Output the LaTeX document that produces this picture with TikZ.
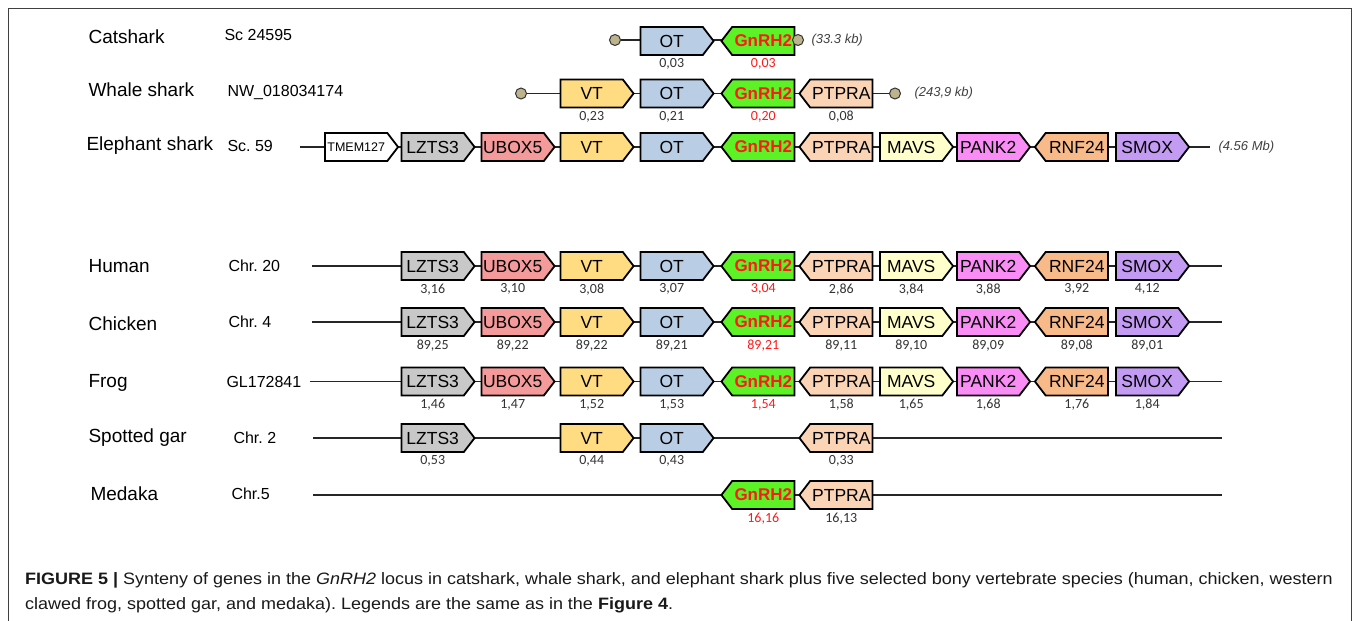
\documentclass[tikz,border=0pt]{standalone}
\usepackage{fontspec}
\setmainfont{Liberation Sans}
\newfontfamily\calibri{Carlito}
\newfontfamily\capfont{Liberation Sans}[FakeStretch=1.09]
\usepackage{tikz}
\usetikzlibrary{shapes.symbols}
\usetikzlibrary{positioning}
\usetikzlibrary{backgrounds}

\definecolor{cLZTS}{HTML}{C8C8C8}
\definecolor{cUBOX}{HTML}{F59A9B}
\definecolor{cVT}{HTML}{FFDB82}
\definecolor{cOT}{HTML}{B9CDE5}
\definecolor{cGNRH}{HTML}{5CF226}
\definecolor{cPTPRA}{HTML}{FBD4B6}
\definecolor{cMAVS}{HTML}{FFFFCC}
\definecolor{cPANK}{HTML}{FA8CF5}
\definecolor{cRNF}{HTML}{F9BA8A}
\definecolor{cSMOX}{HTML}{C39BF3}
\definecolor{cBALL}{HTML}{BDB48E}
\definecolor{numgray}{HTML}{333333}
\definecolor{gnred}{HTML}{FF1A1A}

\tikzset{
    gene/.style={signal, signal pointer angle=105, draw=black, line width=1.8pt,
        minimum width=73pt, minimum height=28pt, inner sep=0pt, text=black,
        font=\fontsize{17.5}{17.5}\selectfont},
    fwd/.style={gene, signal to=east, xshift=-5.3pt},
    rev/.style={gene, signal to=west, xshift=5.3pt},
    tmem/.style={fwd, fill=white, font=\fontsize{12.5}{12.5}\selectfont},
    lzts/.style={fwd, fill=cLZTS},
    ubox/.style={fwd, fill=cUBOX},
    vt/.style={fwd, fill=cVT},
    ot/.style={fwd, fill=cOT},
    gnrh/.style={rev, fill=cGNRH, text=gnred, font=\fontsize{17}{17}\bfseries},
    ptpra/.style={rev, fill=cPTPRA},
    mavs/.style={fwd, fill=cMAVS},
    pank/.style={fwd, fill=cPANK},
    rnf/.style={rev, fill=cRNF},
    smox/.style={fwd, fill=cSMOX},
    num/.style={text=numgray, font=\calibri\fontsize{14}{14}\selectfont, inner sep=2.5pt},
    rednum/.style={num, text=gnred},
    species/.style={anchor=west, font=\fontsize{19}{19}\selectfont},
    locus/.style={anchor=west, font=\fontsize{16}{16}\selectfont\frenchspacing},
    span/.style={anchor=west, text=black!75, font=\fontsize{13}{13}\itshape},
    endball/.style={circle, draw=black!80, fill=cBALL, line width=1pt,
        minimum size=11pt, inner sep=0pt},
    chrom/.style={draw=black!85, line width=1.3pt},
    caption/.style={anchor=base west, inner sep=0pt, text=black!90,
        font=\capfont\fontsize{16.5}{16.5}\selectfont\frenchspacing},
}

\begin{document}
\begin{tikzpicture}[x=1pt, y=-1pt]

    \useasboundingbox (0,0) rectangle (1358,621);

    % Frame
    \coordinate (f1) at (8.5,621);
    \coordinate (f2) at (8.5,8.5);
    \coordinate (f3) at (1351.5,8.5);
    \coordinate (f4) at (1351.5,621);
    \draw[black!75, line width=1.3pt] (f1) -- (f2) -- (f3) -- (f4);

    % Names
    \node[species] (ca-name) at (85,37) {Catshark};
    \node[species] (wh-name) at (85,90) {Whale shark};
    \node[species] (el-name) at (83,146) {Elephant shark};
    \node[species] (hu-name) at (85,266) {Human};
    \node[species] (ch-name) at (85,324) {Chicken};
    \node[species] (fr-name) at (85,383) {Frog};
    \node[species] (sg-name) at (85,438) {Spotted gar};
    \node[species] (me-name) at (87,494) {Medaka};

    \node[locus] (ca-loc) at (221,35) {Sc 24595};
    \node[locus] (wh-loc) at (224,93) {NW\_018034174};
    \node[locus] (el-loc) at (224,146) {Sc. 59};
    \node[locus] (hu-loc) at (225,266) {Chr. 20};
    \node[locus] (ch-loc) at (225,322) {Chr. 4};
    \node[locus] (fr-loc) at (223,382) {GL172841};
    \node[locus] (sg-loc) at (230,438) {Chr. 2};
    \node[locus] (me-loc) at (228,494) {Chr.5};

    % Catshark
    \node[ot]   (ca-ot)   at (677,41) [label={[num, name=ca-ot-n]below:{0,03}}] {OT};
    \node[gnrh] (ca-gnrh) at (758,41) [label={[rednum, name=ca-gnrh-n]below:{0,03}}] {GnRH2};
    \node[endball] (ca-cl) at (615,40) {};
    \node[endball] (ca-cr) at (798,40) {};
    \node[span] (ca-span) at (808,40) {(33.3 kb)};

    % Whale shark
    \node[vt]    (wh-vt)    at (597,93.5) [label={[num, name=wh-vt-n]below:{0,23}}] {VT};
    \node[ot]    (wh-ot)    at (677,93.5) [label={[num, name=wh-ot-n]below:{0,21}}] {OT};
    \node[gnrh]  (wh-gnrh)  at (758,93.5) [label={[rednum, name=wh-gnrh-n]below:{0,20}}] {GnRH2};
    \node[ptpra] (wh-ptpra) at (836,93.5) [label={[num, name=wh-ptpra-n]below:{0,08}}] {PTPRA};
    \node[endball] (wh-cl) at (521,93.5) {};
    \node[endball] (wh-cr) at (895,93.5) {};
    \node[span] (wh-span) at (911,93) {(243,9 kb)};

    % Elephant shark
    \coordinate (el-l) at (300,147);
    \coordinate (el-r) at (1210,147);
    \node[tmem]  (el-tmem)  at (361.5,147) {TMEM127};
    \node[lzts]  (el-lzts)  at (438,147) {LZTS3};
    \node[ubox]  (el-ubox)  at (518,147) {UBOX5};
    \node[vt]    (el-vt)    at (597,147) {VT};
    \node[ot]    (el-ot)    at (677,147) {OT};
    \node[gnrh]  (el-gnrh)  at (758,147) {GnRH2};
    \node[ptpra] (el-ptpra) at (836,147) {PTPRA};
    \node[mavs]  (el-mavs)  at (916.5,147) {MAVS};
    \node[pank]  (el-pank)  at (993.5,147) {PANK2};
    \node[rnf]   (el-rnf)   at (1071.5,147) {RNF24};
    \node[smox]  (el-smox)  at (1152.5,147) {SMOX};
    \node[span] (el-span) at (1215,147) {(4.56 Mb)};

    % Human
    \coordinate (hu-l) at (312,266);
    \coordinate (hu-r) at (1222,266);
    \node[lzts]  (hu-lzts)  at (438,266) [label={[num, name=hu-lzts-n]below:{3,16}}] {LZTS3};
    \node[ubox]  (hu-ubox)  at (518,266) [label={[num, name=hu-ubox-n]below:{3,10}}] {UBOX5};
    \node[vt]    (hu-vt)    at (597,266) [label={[num, name=hu-vt-n]below:{3,08}}] {VT};
    \node[ot]    (hu-ot)    at (677,266) [label={[num, name=hu-ot-n]below:{3,07}}] {OT};
    \node[gnrh]  (hu-gnrh)  at (758,266) [label={[rednum, name=hu-gnrh-n]below:{3,04}}] {GnRH2};
    \node[ptpra] (hu-ptpra) at (836,266) [label={[num, name=hu-ptpra-n]below:{2,86}}] {PTPRA};
    \node[mavs]  (hu-mavs)  at (916.5,266) [label={[num, name=hu-mavs-n]below:{3,84}}] {MAVS};
    \node[pank]  (hu-pank)  at (993.5,266) [label={[num, name=hu-pank-n]below:{3,88}}] {PANK2};
    \node[rnf]   (hu-rnf)   at (1071.5,266) [label={[num, name=hu-rnf-n]below:{3,92}}] {RNF24};
    \node[smox]  (hu-smox)  at (1152.5,266) [label={[num, name=hu-smox-n]below:{4,12}}] {SMOX};

    % Chicken
    \coordinate (ch-l) at (312,322);
    \coordinate (ch-r) at (1222,322);
    \node[lzts]  (ch-lzts)  at (438,322) [label={[num, name=ch-lzts-n]below:{89,25}}] {LZTS3};
    \node[ubox]  (ch-ubox)  at (518,322) [label={[num, name=ch-ubox-n]below:{89,22}}] {UBOX5};
    \node[vt]    (ch-vt)    at (597,322) [label={[num, name=ch-vt-n]below:{89,22}}] {VT};
    \node[ot]    (ch-ot)    at (677,322) [label={[num, name=ch-ot-n]below:{89,21}}] {OT};
    \node[gnrh]  (ch-gnrh)  at (758,322) [label={[rednum, name=ch-gnrh-n]below:{89,21}}] {GnRH2};
    \node[ptpra] (ch-ptpra) at (836,322) [label={[num, name=ch-ptpra-n]below:{89,11}}] {PTPRA};
    \node[mavs]  (ch-mavs)  at (916.5,322) [label={[num, name=ch-mavs-n]below:{89,10}}] {MAVS};
    \node[pank]  (ch-pank)  at (993.5,322) [label={[num, name=ch-pank-n]below:{89,09}}] {PANK2};
    \node[rnf]   (ch-rnf)   at (1071.5,322) [label={[num, name=ch-rnf-n]below:{89,08}}] {RNF24};
    \node[smox]  (ch-smox)  at (1152.5,322) [label={[num, name=ch-smox-n]below:{89,01}}] {SMOX};

    % Frog
    \coordinate (fr-l) at (310,381.5);
    \coordinate (fr-r) at (1222,381.5);
    \node[lzts]  (fr-lzts)  at (438,381.5) [label={[num, name=fr-lzts-n]below:{1,46}}] {LZTS3};
    \node[ubox]  (fr-ubox)  at (518,381.5) [label={[num, name=fr-ubox-n]below:{1,47}}] {UBOX5};
    \node[vt]    (fr-vt)    at (597,381.5) [label={[num, name=fr-vt-n]below:{1,52}}] {VT};
    \node[ot]    (fr-ot)    at (677,381.5) [label={[num, name=fr-ot-n]below:{1,53}}] {OT};
    \node[gnrh]  (fr-gnrh)  at (758,381.5) [label={[rednum, name=fr-gnrh-n]below:{1,54}}] {GnRH2};
    \node[ptpra] (fr-ptpra) at (836,381.5) [label={[num, name=fr-ptpra-n]below:{1,58}}] {PTPRA};
    \node[mavs]  (fr-mavs)  at (916.5,381.5) [label={[num, name=fr-mavs-n]below:{1,65}}] {MAVS};
    \node[pank]  (fr-pank)  at (993.5,381.5) [label={[num, name=fr-pank-n]below:{1,68}}] {PANK2};
    \node[rnf]   (fr-rnf)   at (1071.5,381.5) [label={[num, name=fr-rnf-n]below:{1,76}}] {RNF24};
    \node[smox]  (fr-smox)  at (1152.5,381.5) [label={[num, name=fr-smox-n]below:{1,84}}] {SMOX};

    % Spotted gar
    \coordinate (sg-l) at (313,438);
    \coordinate (sg-r) at (1222,438);
    \node[lzts]  (sg-lzts)  at (438,438) [label={[num, name=sg-lzts-n]below:{0,53}}] {LZTS3};
    \node[vt]    (sg-vt)    at (597,438) [label={[num, name=sg-vt-n]below:{0,44}}] {VT};
    \node[ot]    (sg-ot)    at (677,438) [label={[num, name=sg-ot-n]below:{0,43}}] {OT};
    \node[ptpra] (sg-ptpra) at (836,438) [label={[num, name=sg-ptpra-n]below:{0,33}}] {PTPRA};

    % Medaka
    \coordinate (me-l) at (313,495);
    \coordinate (me-r) at (1222,495);
    \node[gnrh]  (me-gnrh)  at (758,495) [label={[rednum, name=me-gnrh-n]below:{16,16}}] {GnRH2};
    \node[ptpra] (me-ptpra) at (836,495) [label={[num, name=me-ptpra-n]below:{16,13}}] {PTPRA};

    % Chromosome lines
    \begin{scope}[on background layer]
        \draw[chrom] (ca-cl) -- (ca-cr);
        \draw[chrom] (wh-cl) -- (wh-cr);
        \draw[chrom] (el-l) -- (el-r);
        \draw[chrom] (hu-l) -- (hu-r);
        \draw[chrom] (ch-l) -- (ch-r);
        \draw[chrom] (fr-l) -- (fr-r);
        \draw[chrom] (sg-l) -- (sg-r);
        \draw[chrom] (me-l) -- (me-r);
    \end{scope}

    % Caption
    \node[caption] (cap1) at (25,584)
        {\textbf{FIGURE 5 |} Synteny of genes in the \textit{GnRH2} locus in catshark, whale shark, and elephant shark plus five selected bony vertebrate species (human, chicken, western};
    \node[caption] (cap2) at (25,609)
        {clawed frog, spotted gar, and medaka). Legends are the same as in the \textbf{Figure 4}.};

\end{tikzpicture}
\end{document}
